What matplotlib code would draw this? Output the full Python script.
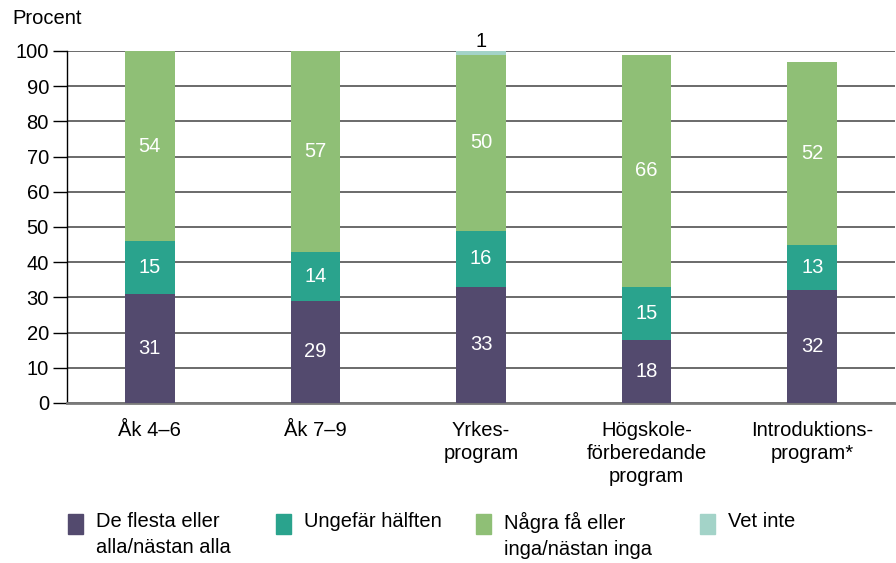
import numpy as np
import matplotlib.pyplot as plt
from matplotlib.patches import Rectangle

plt.rcParams['font.family'] = ['Liberation Sans', 'DejaVu Sans']

categories = ['Åk 4–6', 'Åk 7–9', 'Yrkes-\nprogram', 'Högskole-\nförberedande\nprogram',
              'Introduktions-\nprogram*']
series = ['De flesta eller\nalla/nästan alla', 'Ungefär hälften',
          'Några få eller\ninga/nästan inga', 'Vet inte']
most = [31, 29, 33, 18, 32]
half = [15, 14, 16, 15, 13]
few = [54, 57, 50, 66, 52]
dontknow = [0, 0, 1, 0, 0]
colors = ['#534a6e', '#2aa38d', '#8fbf76', '#a3d3c8']

fig = plt.figure(figsize=(8.96, 5.63), dpi=100)
ax = fig.add_axes([67/896, 160/563, 828/896, 352/563])

x = np.arange(len(categories))
bottom = np.zeros(len(categories))
for vals, col in zip([most, half, few, dontknow], colors):
    vals = np.array(vals, dtype=float)
    ax.bar(x, vals, 0.3, bottom=bottom, color=col, zorder=3)
    for xi, b, v in zip(x, bottom, vals):
        if v >= 5:
            ax.text(xi, b + v/2, f'{v:.0f}', ha='center', va='center',
                    color='white', fontsize=14.5, zorder=4)
        elif v > 0:
            ax.text(xi, b + v, f'{v:.0f}', ha='center', va='bottom',
                    color='black', fontsize=14.5, zorder=4)
    bottom += vals

ax.set_xlim(-0.5, 4.5)
ax.set_ylim(0, 100)
ax.set_yticks(range(0, 101, 10))
ax.set_xticks(x)
ax.set_xticklabels(categories, fontsize=14.5, linespacing=1.25)
ax.tick_params(axis='y', labelsize=14.5, length=10, width=1, color='black', pad=3)
ax.tick_params(axis='x', length=0, pad=13)
ax.grid(axis='y', color='#5f5f5f', linewidth=1.3, zorder=0)
for s in ['top', 'right']:
    ax.spines[s].set_visible(False)
ax.spines['left'].set_color('black')
ax.spines['left'].set_linewidth(1)
ax.spines['bottom'].set_color('#7a7a7a')
ax.spines['bottom'].set_linewidth(2)

fig.text(12/896, 1 - 18/563, 'Procent', fontsize=14.5, va='center', ha='left')

# legend
legend_x = [68, 276, 476, 700]
for lx, name, col in zip(legend_x, series, colors):
    fig.patches.append(Rectangle((lx/896, 1 - 534/563), 15/896, 20/563,
                                 transform=fig.transFigure, color=col))
    fig.text((lx + 28)/896, 1 - 512/563, name, fontsize=14.5, va='top', ha='left',
             linespacing=1.45)

fig.savefig('out.png', dpi=100)
